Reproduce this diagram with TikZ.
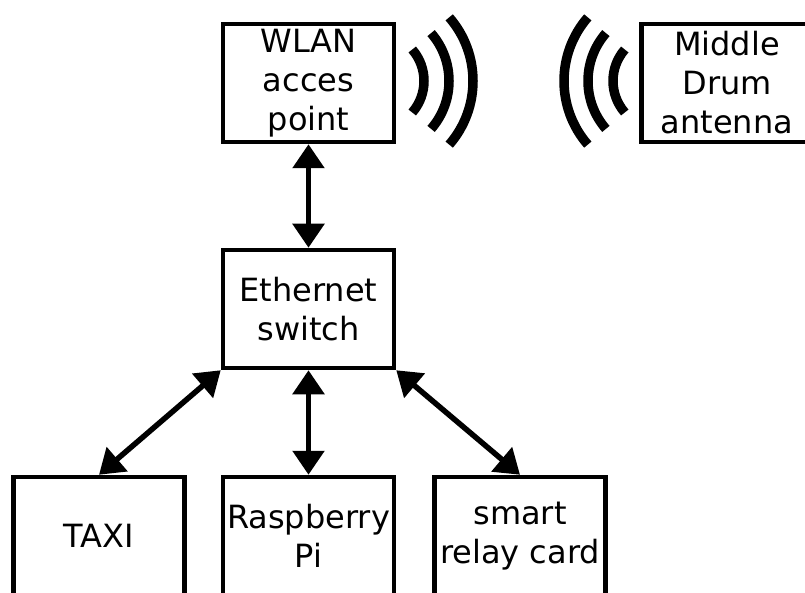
\documentclass[tikz,border=0pt]{standalone}
\usepackage{fontspec}
\setmainfont{DejaVu Sans}
\usetikzlibrary{arrows.meta}
\begin{document}
\begin{tikzpicture}[x=1pt,y=-1pt,
  box/.style={draw,line width=4.5pt,minimum width=171pt,minimum height=118pt,align=center,inner sep=0pt,
    font=\fontsize{32}{39}\selectfont},
  link/.style={line width=5.5pt,{Triangle[width=31pt,length=24pt]}-{Triangle[width=31pt,length=24pt]}},
  wave/.style={line width=9.5pt}]
\useasboundingbox (0,0) rectangle (805,593);
\clip (0,0) rectangle (805,593);
\node[box] (wlan) at (308.5,83) {WLAN\\acces\\point};
\node[box] (drum) at (727,83) {Middle\\Drum\\antenna};
\node[box] (eth) at (308.5,309) {Ethernet\\switch};
\node[box] (taxi) at (99,536) {TAXI};
\node[box] (rpi) at (308.5,536) {Raspberry\\Pi};
\node[box] (relay) at (520,536) {smart\\relay card};
\draw[link] (wlan.south) -- (eth.north);
\draw[link] (eth.south west) -- (taxi.north);
\draw[link] (eth.south) -- (rpi.north);
\draw[link] (eth.south east) -- (relay.north);
% waves of the access point
\coordinate (wc) at (376,81);
\foreach \r in {48,73,97}
  \draw[wave] (wc) ++(-41:\r) arc[start angle=-41,end angle=41,radius=\r];
% waves of the antenna
\coordinate (dc) at (661,81);
\foreach \r in {48,73,97}
  \draw[wave] (dc) ++(139:\r) arc[start angle=139,end angle=221,radius=\r];
\end{tikzpicture}
\end{document}
